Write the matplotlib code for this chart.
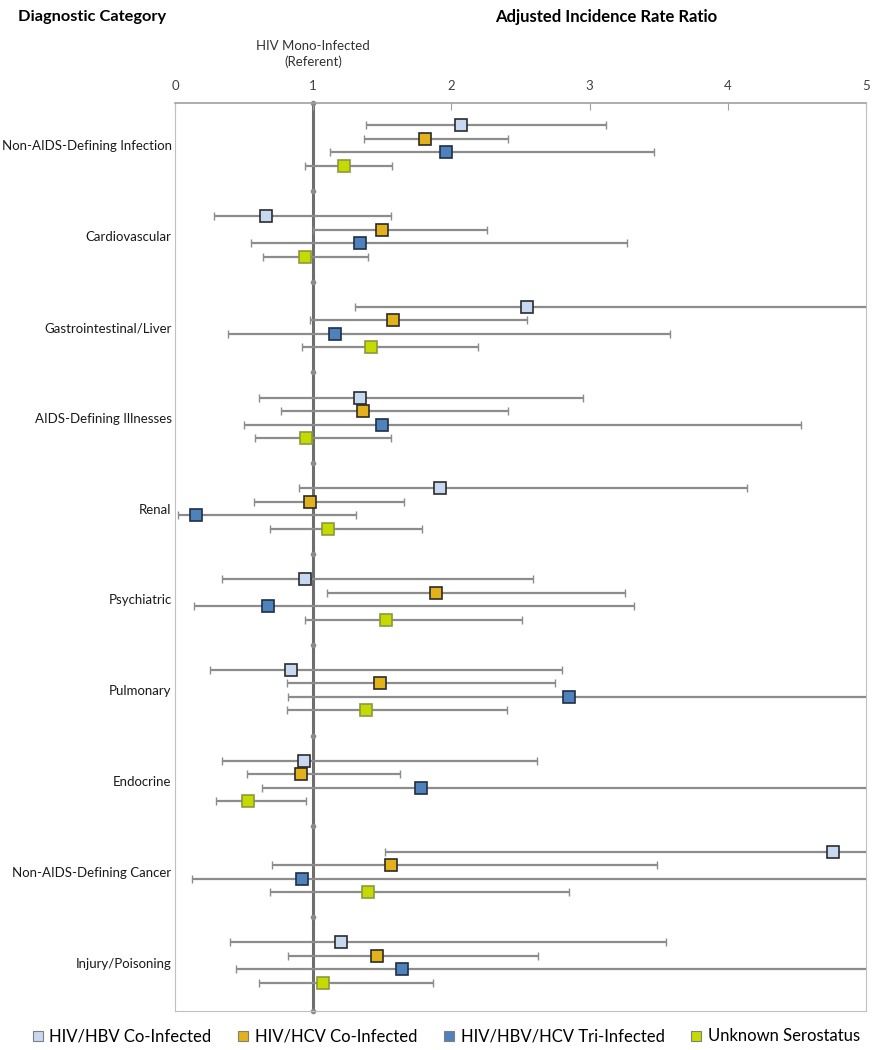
import numpy as np
import matplotlib.pyplot as plt

plt.rcParams['font.family'] = ['Lato', 'DejaVu Sans']

categories = ['Non-AIDS-Defining Infection', 'Cardiovascular', 'Gastrointestinal/Liver',
              'AIDS-Defining Illnesses', 'Renal', 'Psychiatric', 'Pulmonary', 'Endocrine',
              'Non-AIDS-Defining Cancer', 'Injury/Poisoning']

series = ['HIV/HBV Co-Infected', 'HIV/HCV Co-Infected', 'HIV/HBV/HCV Tri-Infected', 'Unknown Serostatus']

# point estimate, lower CI, upper CI (upper > 5 runs off the chart)
hbv_irr = [2.07, 0.66, 2.55, 1.34, 1.92, 0.94, 0.84, 0.93, 4.76, 1.20]
hbv_lo = [1.38, 0.28, 1.30, 0.61, 0.90, 0.34, 0.25, 0.34, 1.52, 0.40]
hbv_hi = [3.12, 1.56, 5.60, 2.95, 4.14, 2.59, 2.80, 2.62, 6.50, 3.55]

hcv_irr = [1.81, 1.50, 1.58, 1.36, 0.98, 1.89, 1.48, 0.91, 1.56, 1.46]
hcv_lo = [1.37, 1.00, 0.98, 0.77, 0.57, 1.10, 0.81, 0.52, 0.70, 0.82]
hcv_hi = [2.41, 2.26, 2.55, 2.41, 1.66, 3.26, 2.75, 1.63, 3.49, 2.63]

tri_irr = [1.96, 1.34, 1.16, 1.50, 0.15, 0.67, 2.85, 1.78, 0.92, 1.64]
tri_lo = [1.12, 0.55, 0.38, 0.50, 0.02, 0.14, 0.82, 0.63, 0.12, 0.44]
tri_hi = [3.47, 3.27, 3.58, 4.53, 1.31, 3.32, 7.00, 6.50, 6.50, 6.50]

unk_irr = [1.22, 0.94, 1.42, 0.95, 1.11, 1.53, 1.38, 0.53, 1.40, 1.07]
unk_lo = [0.94, 0.64, 0.92, 0.58, 0.69, 0.94, 0.81, 0.30, 0.69, 0.61]
unk_hi = [1.57, 1.40, 2.19, 1.56, 1.79, 2.51, 2.40, 0.95, 2.85, 1.87]

x_ticks = [0, 1, 2, 3, 4, 5]

face_colors = ['#c6d9f1', '#e3b21a', '#4f81bd', '#c4da00']
edge_colors = ['#2b2b2b', '#2b2b2b', '#1f2f45', '#8a9a40']

data = [(hbv_irr, hbv_lo, hbv_hi), (hcv_irr, hcv_lo, hcv_hi),
        (tri_irr, tri_lo, tri_hi), (unk_irr, unk_lo, unk_hi)]

fig = plt.figure(figsize=(8.72, 10.5), dpi=100)
ax = fig.add_axes([0.2007, 0.0371, 0.7923, 0.8648])

n = len(categories)
centers = np.arange(n)
step = 0.1487
offsets = np.array([-1.5, -0.5, 0.5, 1.5]) * step

# reference line at 1
ax.axvline(1, color='#6e6e6e', lw=2.2, zorder=1)
sep = np.concatenate([[-0.468], centers[:-1] + 0.5, [n - 1 + 0.534]])
ax.plot(np.ones(len(sep)), sep, ls='none', marker='o', ms=3, color='#8a8a8a', zorder=2, clip_on=False)

for k, (irr, lo, hi) in enumerate(data):
    irr = np.array(irr)
    err = [irr - np.array(lo), np.array(hi) - irr]
    y = centers + offsets[k]
    ax.errorbar(irr, y, xerr=err, fmt='none', ecolor='#8c8c8c', elinewidth=1.6,
                capsize=3, capthick=1, zorder=3)
    ax.plot(irr, y, ls='none', marker='s', ms=9, mfc=face_colors[k],
            mec=edge_colors[k], mew=1.2, zorder=4, label=series[k])

ax.set_xlim(0, 5)
ax.set_ylim(n - 1 + 0.534, -0.468)
ax.xaxis.tick_top()
ax.set_xticks(x_ticks)
ax.tick_params(axis='x', direction='in', length=5, color='#a0a0a0', labelsize=9.5,
               labelcolor='#404040', pad=8)
ax.set_yticks(centers)
ax.set_yticklabels(categories, fontsize=9.5, color='#1a1a1a')
ax.tick_params(axis='y', length=0, pad=2.5)
for s in ax.spines.values():
    s.set_color('#c0c0c0')
ax.spines['top'].set_color('#a0a0a0')
ax.spines['top'].set_linewidth(1.2)

fig.text(0.021, 0.984, 'Diagnostic Category', fontsize=11.8, fontweight='bold', va='center')
fig.text(0.695, 0.984, 'Adjusted Incidence Rate Ratio', fontsize=12, fontweight='bold',
         va='center', ha='center')
ax.text(1, 1.054, 'HIV Mono-Infected\n(Referent)', transform=ax.get_xaxis_transform(),
        ha='center', va='center', fontsize=9.5, color='#333333', linespacing=1.3)

leg_handles = [plt.Line2D([], [], ls='none', marker='s', ms=7.5, mfc=face_colors[k],
                          mec='#7f7f7f', mew=0.8) for k in range(4)]
fig.legend(leg_handles, series, loc='center', bbox_to_anchor=(0.51, 0.013), ncol=4,
           frameon=False, fontsize=12, handletextpad=0.2, columnspacing=1.4, handlelength=1.0)

fig.savefig('out.png', dpi=100)
